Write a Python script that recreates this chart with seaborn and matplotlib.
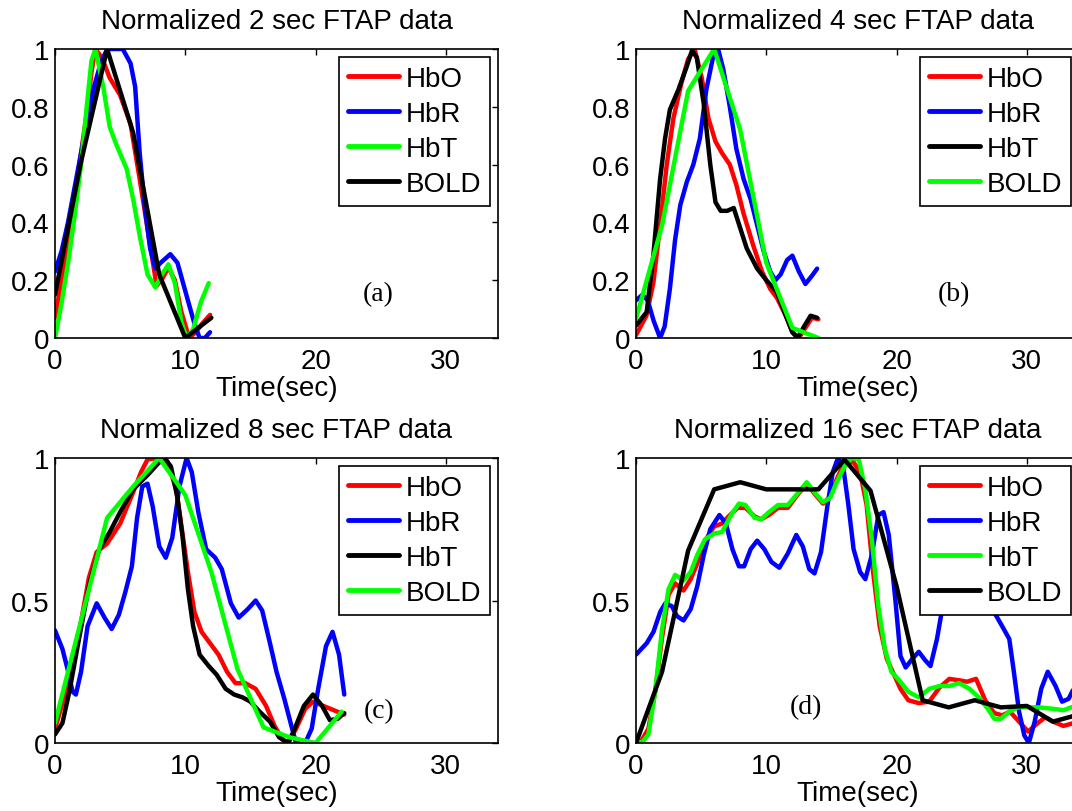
import matplotlib
matplotlib.use("Agg")
import matplotlib.pyplot as plt
import seaborn as sns
import pandas as pd

# ---------------- data ----------------
titles = ["Normalized 2 sec FTAP data", "Normalized 4 sec FTAP data",
          "Normalized 8 sec FTAP data", "Normalized 16 sec FTAP data"]
panel_tags = ["(a)", "(b)", "(c)", "(d)"]
tag_pos_x = [24.8, 24.4, 24.85, 13.05]
tag_pos_y = [0.152, 0.152, 0.113, 0.126]
xtick_vals = [0, 10, 20, 30]
ytick_vals_top = [0, 0.2, 0.4, 0.6, 0.8, 1]
ytick_labels_top = ["0", "0.2", "0.4", "0.6", "0.8", "1"]
ytick_vals_bot = [0, 0.5, 1]
ytick_labels_bot = ["0", "0.5", "1"]
xlabel_text = "Time(sec)"

# legend order per panel: label, colour
legend_a = [("HbO", "#ff0000"), ("HbR", "#0000ff"), ("HbT", "#00ff00"), ("BOLD", "#000000")]
legend_b = [("HbO", "#ff0000"), ("HbR", "#0000ff"), ("HbT", "#000000"), ("BOLD", "#00ff00")]
legend_c = [("HbO", "#ff0000"), ("HbR", "#0000ff"), ("HbT", "#000000"), ("BOLD", "#00ff00")]
legend_d = [("HbO", "#ff0000"), ("HbR", "#0000ff"), ("HbT", "#00ff00"), ("BOLD", "#000000")]

# ---- panel (a): 2 sec ----
t_a_hbo = [0, 0.5, 1, 1.5, 2, 2.5, 2.8, 3.1, 3.6, 4.2, 5, 5.8, 6.5, 7.2, 7.8, 8.3, 8.7, 9.2, 9.7, 10.3, 10.8, 11.3, 11.9]
v_a_hbo = [0.07, 0.2, 0.33, 0.49, 0.64, 0.8, 0.92, 1.0, 0.97, 0.9, 0.84, 0.74, 0.55, 0.35, 0.18, 0.21, 0.245, 0.2, 0.09, 0.0, 0.02, 0.05, 0.08]
t_a_hbr = [0, 0.5, 1, 1.5, 2, 2.5, 3, 3.5, 4.0, 4.6, 5.2, 5.8, 6.15, 6.5, 6.9, 7.3, 7.7, 8.1, 8.85, 9.4, 10.2, 10.7, 11.1, 11.5, 11.9]
v_a_hbr = [0.23, 0.3, 0.4, 0.52, 0.64, 0.76, 0.87, 0.95, 1.0, 1.0, 1.0, 0.95, 0.87, 0.64, 0.45, 0.31, 0.24, 0.26, 0.29, 0.26, 0.13, 0.05, 0.0, 0.0, 0.02]
t_a_hbt = [0, 0.5, 1, 1.5, 2, 2.5, 2.8, 3.1, 3.7, 4.2, 4.7, 5.5, 6.0, 6.5, 7.1, 7.7, 8.2, 8.7, 9.2, 9.7, 10.1, 10.6, 11.2, 11.8]
v_a_hbt = [0, 0.12, 0.26, 0.42, 0.6, 0.83, 0.96, 1.0, 0.87, 0.73, 0.67, 0.585, 0.48, 0.355, 0.22, 0.175, 0.22, 0.255, 0.19, 0.055, 0.0, 0.03, 0.125, 0.19]
t_a_bold = [0, 2, 4, 6, 8, 10, 12]
v_a_bold = [0.15, 0.61, 1.0, 0.71, 0.22, 0.0, 0.07]

# ---- panel (b): 4 sec ----
t_b_hbo = [0, 0.8, 1.33, 1.85, 2.36, 2.87, 3.5, 4, 4.5, 5.05, 5.56, 6.1, 6.6, 7.2, 7.7, 8.26, 9, 9.67, 10.3, 10.8, 11.5, 12, 12.5, 13, 13.5, 14]
v_b_hbo = [0.01, 0.077, 0.19, 0.39, 0.6, 0.76, 0.885, 0.965, 1.0, 0.9, 0.76, 0.68, 0.64, 0.6, 0.53, 0.43, 0.32, 0.23, 0.17, 0.14, 0.077, 0.02, 0.0, 0.035, 0.07, 0.065]
t_b_hbr = [0, 0.5, 0.9, 1.35, 1.85, 2.2, 2.6, 3, 3.4, 3.9, 4.4, 4.9, 5.4, 5.95, 6.3, 6.7, 7.2, 7.7, 8.26, 8.8, 9.3, 9.8, 10.3, 10.7, 11.1, 11.6, 12, 12.5, 13, 13.5, 13.9]
v_b_hbr = [0.13, 0.15, 0.13, 0.06, 0.0, 0.04, 0.17, 0.34, 0.46, 0.54, 0.6, 0.69, 0.86, 0.98, 1.0, 0.93, 0.8, 0.655, 0.55, 0.48, 0.39, 0.3, 0.23, 0.2, 0.22, 0.27, 0.285, 0.23, 0.187, 0.215, 0.24]
t_b_hbt = [0, 0.82, 1.33, 1.85, 2.23, 2.6, 3.26, 3.9, 4.3, 4.67, 5.2, 5.7, 6.1, 6.5, 7, 7.5, 8, 8.5, 9.3, 10, 10.8, 11.5, 12, 12.4, 12.9, 13.4, 13.9]
v_b_hbt = [0.043, 0.09, 0.285, 0.55, 0.69, 0.79, 0.86, 0.94, 0.995, 0.97, 0.81, 0.6, 0.47, 0.44, 0.44, 0.45, 0.38, 0.31, 0.24, 0.2, 0.16, 0.077, 0.02, 0.0, 0.04, 0.077, 0.07]
t_b_bold = [0, 2, 4, 6, 8, 10, 12, 14]
v_b_bold = [0.066, 0.39, 0.855, 1.0, 0.72, 0.26, 0.035, 0.0]

# ---- panel (c): 8 sec ----
t_c_hbo = [0, 0.83, 1.9, 2.6, 3.2, 4, 5, 6, 6.6, 7.1, 7.9, 8.6, 9.3, 9.8, 10.2, 10.7, 11.25, 11.9, 12.55, 13.2, 13.85, 14.6, 15.4, 16.2, 16.85, 17.5, 17.9, 18.5, 19.2, 19.8, 20.6, 21.4, 22.2]
v_c_hbo = [0.05, 0.18, 0.4, 0.58, 0.67, 0.7, 0.77, 0.88, 0.95, 0.995, 1.0, 0.99, 0.89, 0.73, 0.6, 0.46, 0.39, 0.35, 0.31, 0.25, 0.21, 0.21, 0.19, 0.13, 0.06, 0.01, 0.0, 0.05, 0.12, 0.145, 0.13, 0.115, 0.1]
t_c_hbr = [0, 0.57, 0.96, 1.35, 1.6, 2, 2.5, 3.2, 3.8, 4.35, 4.9, 5.4, 5.9, 6.3, 6.7, 7.1, 7.5, 8, 8.5, 9, 9.55, 10.1, 10.5, 11, 11.6, 12.3, 12.8, 13.5, 14.1, 14.8, 15.4, 15.9, 16.5, 17, 17.6, 18.2, 18.5, 19.2, 19.7, 20.2, 20.8, 21.3, 21.8, 22.2]
v_c_hbr = [0.395, 0.33, 0.26, 0.18, 0.17, 0.25, 0.41, 0.49, 0.44, 0.4, 0.45, 0.53, 0.62, 0.79, 0.9, 0.91, 0.83, 0.69, 0.65, 0.72, 0.9, 1.0, 0.95, 0.81, 0.68, 0.65, 0.61, 0.49, 0.44, 0.47, 0.5, 0.465, 0.35, 0.25, 0.155, 0.05, 0.0, 0.0, 0.05, 0.19, 0.34, 0.39, 0.31, 0.17]
t_c_hbt = [0, 0.57, 1.1, 1.9, 2.65, 3.4, 4.2, 5, 6, 7.1, 7.9, 8.4, 8.9, 9.4, 9.8, 10.2, 10.6, 11.1, 11.8, 12.4, 13.1, 13.75, 14.4, 15, 15.7, 16.5, 17.2, 17.9, 18.4, 19.1, 19.8, 20.5, 21.1, 21.7, 22.2]
v_c_hbt = [0.03, 0.07, 0.18, 0.38, 0.56, 0.68, 0.74, 0.81, 0.89, 0.94, 0.98, 1.0, 0.97, 0.86, 0.72, 0.54, 0.41, 0.31, 0.27, 0.24, 0.19, 0.17, 0.16, 0.145, 0.11, 0.075, 0.02, 0.0, 0.05, 0.13, 0.17, 0.13, 0.08, 0.085, 0.105]
t_c_bold = [0, 2, 4, 6, 8, 10, 12, 14, 16, 18, 20, 22]
v_c_bold = [0.07, 0.43, 0.79, 0.9, 1.0, 0.87, 0.6, 0.26, 0.055, 0.02, 0.0, 0.11]

# ---- panel (d): 16 sec ----
t_d_hbo = [0, 0.44, 0.95, 1.47, 2, 2.5, 3, 3.65, 4.2, 4.7, 5.3, 6, 6.6, 7.1, 7.8, 8.4, 9.1, 9.6, 10.2, 10.9, 11.65, 12.3, 13.1, 13.7, 14.35, 14.9, 15.4, 16, 16.7, 17.2, 17.7, 18.2, 18.7, 19.25, 19.8, 20.3, 20.9, 21.7, 22.5, 23.3, 24.05, 24.8, 25.4, 26.1, 26.8, 27.5, 28.1, 28.7, 29.4, 30.1, 30.7, 31.4, 32.0, 32.8, 33.6, 34]
v_d_hbo = [0, 0.01, 0.05, 0.18, 0.37, 0.52, 0.56, 0.535, 0.575, 0.63, 0.71, 0.76, 0.77, 0.795, 0.825, 0.825, 0.795, 0.785, 0.8, 0.825, 0.825, 0.865, 0.91, 0.875, 0.84, 0.865, 0.925, 0.985, 0.985, 0.95, 0.835, 0.6, 0.41, 0.295, 0.24, 0.19, 0.15, 0.14, 0.145, 0.195, 0.225, 0.22, 0.215, 0.225, 0.15, 0.105, 0.097, 0.11, 0.075, 0.04, 0.065, 0.09, 0.075, 0.06, 0.07, 0.08]
t_d_hbr = [0, 0.82, 1.34, 1.86, 2.25, 2.75, 3.15, 3.65, 4.2, 4.7, 5.2, 5.7, 6.4, 6.9, 7.4, 7.9, 8.3, 8.8, 9.3, 9.85, 10.4, 11, 11.65, 12.3, 12.8, 13.3, 13.7, 14.2, 14.7, 15.1, 15.5, 15.9, 16.3, 16.7, 17.2, 17.6, 18.1, 18.6, 19, 19.4, 19.9, 20.3, 20.7, 21.2, 21.7, 22.2, 22.6, 23.1, 23.5, 24.2, 25, 25.8, 26.6, 27.6, 28.1, 28.65, 29, 29.4, 29.8, 30.15, 30.6, 31.1, 31.6, 32.2, 32.7, 33.2, 33.7, 34]
v_d_hbr = [0.31, 0.35, 0.39, 0.46, 0.49, 0.48, 0.445, 0.43, 0.47, 0.55, 0.66, 0.75, 0.8, 0.77, 0.68, 0.62, 0.62, 0.68, 0.71, 0.68, 0.635, 0.615, 0.665, 0.73, 0.69, 0.61, 0.595, 0.67, 0.835, 0.95, 1.0, 0.97, 0.835, 0.68, 0.6, 0.575, 0.66, 0.8, 0.81, 0.73, 0.505, 0.305, 0.265, 0.295, 0.32, 0.29, 0.27, 0.365, 0.47, 0.6, 0.66, 0.65, 0.58, 0.45, 0.41, 0.365, 0.25, 0.11, 0.027, 0.0, 0.075, 0.19, 0.25, 0.2, 0.145, 0.155, 0.2, 0.22]
t_d_hbt = [0, 0.44, 0.95, 1.47, 2, 2.5, 3, 3.65, 4.2, 4.7, 5.3, 6, 6.6, 7.3, 7.9, 8.4, 9.1, 9.6, 10.2, 10.9, 11.65, 12.3, 13.1, 13.7, 14.35, 14.9, 15.4, 16, 16.55, 17.1, 17.6, 18.1, 18.6, 19.1, 19.6, 20.2, 20.9, 21.7, 22.5, 23.3, 24.05, 24.8, 25.6, 26.3, 27, 27.5, 28, 28.65, 29.3, 30, 30.95, 32, 32.8, 33.7, 34]
v_d_hbt = [0.01, 0.0, 0.03, 0.18, 0.4, 0.54, 0.59, 0.57, 0.6, 0.66, 0.715, 0.735, 0.74, 0.8, 0.84, 0.835, 0.79, 0.785, 0.81, 0.835, 0.835, 0.87, 0.915, 0.88, 0.845, 0.86, 0.915, 0.97, 1.0, 0.995, 0.89, 0.715, 0.48, 0.33, 0.25, 0.22, 0.18, 0.16, 0.19, 0.2, 0.2, 0.21, 0.19, 0.16, 0.12, 0.085, 0.085, 0.11, 0.125, 0.125, 0.125, 0.12, 0.115, 0.13, 0.13]
t_d_bold = [0, 2, 4, 6, 8, 10, 12, 14, 16, 18, 20, 22, 24, 26, 28, 30, 32, 34]
v_d_bold = [0.0, 0.25, 0.675, 0.89, 0.915, 0.89, 0.89, 0.89, 0.995, 0.885, 0.55, 0.15, 0.125, 0.15, 0.125, 0.13, 0.075, 0.1]

panels = [
    (legend_a, [(t_a_hbo, v_a_hbo), (t_a_hbr, v_a_hbr), (t_a_hbt, v_a_hbt), (t_a_bold, v_a_bold)], ytick_vals_top, ytick_labels_top),
    (legend_b, [(t_b_hbo, v_b_hbo), (t_b_hbr, v_b_hbr), (t_b_hbt, v_b_hbt), (t_b_bold, v_b_bold)], ytick_vals_top, ytick_labels_top),
    (legend_c, [(t_c_hbo, v_c_hbo), (t_c_hbr, v_c_hbr), (t_c_hbt, v_c_hbt), (t_c_bold, v_c_bold)], ytick_vals_bot, ytick_labels_bot),
    (legend_d, [(t_d_hbo, v_d_hbo), (t_d_hbr, v_d_hbr), (t_d_hbt, v_d_hbt), (t_d_bold, v_d_bold)], ytick_vals_bot, ytick_labels_bot),
]

# ---------------- style ----------------
sns.set_style("white")
plt.rcParams["font.family"] = ["Liberation Sans", "DejaVu Sans"]
plt.rcParams["axes.linewidth"] = 1.2
plt.rcParams["axes.edgecolor"] = "black"
plt.rcParams["text.color"] = "black"
plt.rcParams["axes.labelcolor"] = "black"
plt.rcParams["xtick.color"] = "black"
plt.rcParams["ytick.color"] = "black"
plt.rcParams["axes.titlecolor"] = "black"

W, H = 1072, 812
fig = plt.figure(figsize=(W / 100, H / 100), dpi=100)
fig.patch.set_facecolor("white")

rects = [
    [55 / W, (H - 339) / H, 443 / W, 289 / H],
    [636 / W, (H - 339) / H, 443 / W, 289 / H],
    [55 / W, (H - 744) / H, 443 / W, 285 / H],
    [636 / W, (H - 744) / H, 443 / W, 285 / H],
]

FS = 20
for i, (leg, series, yt, ytl) in enumerate(panels):
    ax = fig.add_axes(rects[i])
    for (lab, col), (tt, vv) in zip(leg, series):
        df = pd.DataFrame({"t": tt, "v": vv})
        sns.lineplot(data=df, x="t", y="v", ax=ax, color=col, linewidth=3.2,
                     label=lab, sort=False, estimator=None)
    ax.set_xlim(0, 34)
    ax.set_ylim(0, 1)
    ax.set_xticks(xtick_vals)
    ax.set_xticklabels([str(v) for v in xtick_vals])
    ax.set_yticks(yt)
    ax.set_yticklabels(ytl)
    ax.tick_params(direction="in", length=4, width=1, labelsize=FS,
                   top=True, right=True, colors="black", labelcolor="black", pad=4)
    ax.tick_params(axis="x", pad=7)
    ax.set_title(titles[i], fontsize=FS, pad=15, color="black")
    ax.set_xlabel(xlabel_text, fontsize=FS, labelpad=1, color="black")
    ax.set_ylabel("")
    for s in ax.spines.values():
        s.set_visible(True)
        s.set_color("black")
    ax.text(tag_pos_x[i], tag_pos_y[i], panel_tags[i], fontsize=FS, color="black",
            family=["Liberation Serif", "DejaVu Serif"], ha="center", va="center")
    lg = ax.legend(loc="upper right", fontsize=FS, frameon=True, fancybox=False,
                   framealpha=1, edgecolor="black", borderpad=0.3,
                   labelspacing=0.33, handlelength=1.85, handletextpad=0.25,
                   borderaxespad=0.3)
    lg.get_frame().set_linewidth(1.2)
    for txt in lg.get_texts():
        txt.set_color("black")
    for ln in lg.get_lines():
        ln.set_linewidth(3.5)

fig.savefig("out.png", dpi=100, facecolor="white")
